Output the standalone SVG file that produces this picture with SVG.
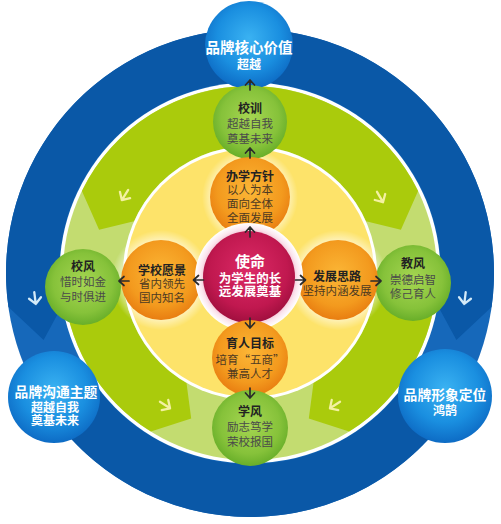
<svg xmlns="http://www.w3.org/2000/svg" width="501" height="524" viewBox="0 0 501 524">
<defs>
  <radialGradient id="gBlue" cx="0.5" cy="0.42" r="0.6">
    <stop offset="0" stop-color="#3ab2f2"/>
    <stop offset="0.6" stop-color="#1a8fe0"/>
    <stop offset="1" stop-color="#0c68c2"/>
  </radialGradient>
  <radialGradient id="gGreen" cx="0.5" cy="0.45" r="0.6">
    <stop offset="0" stop-color="#a6d652"/>
    <stop offset="0.65" stop-color="#86c23a"/>
    <stop offset="1" stop-color="#5fa824"/>
  </radialGradient>
  <radialGradient id="gOrange" cx="0.5" cy="0.42" r="0.62">
    <stop offset="0" stop-color="#fbb636"/>
    <stop offset="0.65" stop-color="#f39a1e"/>
    <stop offset="1" stop-color="#e6770e"/>
  </radialGradient>
  <radialGradient id="gMag" cx="0.5" cy="0.42" r="0.6">
    <stop offset="0" stop-color="#dc2a66"/>
    <stop offset="0.7" stop-color="#c0184f"/>
    <stop offset="1" stop-color="#9c0e3c"/>
  </radialGradient>
  <radialGradient id="gRing" cx="0.5" cy="0.5" r="0.5">
    <stop offset="0.8" stop-color="#f0b8cc"/>
    <stop offset="0.9" stop-color="#fbe6ee"/>
    <stop offset="1" stop-color="#ffffff"/>
  </radialGradient>
  <radialGradient id="gHalo" cx="0.5" cy="0.5" r="0.5">
    <stop offset="0.7" stop-color="#ffffff" stop-opacity="0.75"/>
    <stop offset="1" stop-color="#ffffff" stop-opacity="0"/>
  </radialGradient>
  <path id="arr" d="M0,5 L0,-4.5 M-4.5,0 L0,-5 L4.5,0" fill="none" stroke="#2b2b2b" stroke-width="1.7" stroke-linecap="round" stroke-linejoin="round"/>
  <path id="larr" d="M0,-6 L0,6 M-6,0 L0,6 L6,0" fill="none" stroke-width="2.3" stroke-linecap="round" stroke-linejoin="round"/>
</defs>
<style>
  text { font-family: "Noto Sans CJK SC", "Noto Sans", sans-serif; text-anchor: middle; }
  .t { font-size: 12px; font-weight: 700; fill: #222; }
  .b { font-size: 11.5px; fill: #4a4a4a; }
  .o { fill: #4e3a22; }
  .w { fill: #fff; font-weight: 700; }
  .halo { fill: url(#gHalo); }
</style>
<rect width="501" height="524" fill="#ffffff"/>

<g id="rings">
  <circle cx="250" cy="273" r="244" fill="#1668ba"/>
  <path d="M8.4,307 A244,244 0 1 1 491.6,307 L456.4,340.1 L438.1,306.2 A191,191 0 1 0 61.9,306.2 L43.6,340.1 Z" fill="#0a58a7"/>
  <path d="M43.1,402.3 A244,244 0 0 0 456.9,402.3 L412,374.2 A191,191 0 0 1 88,374.2 Z" fill="#0a58a7"/>
  <circle cx="250" cy="273" r="190.5" fill="#ffffff"/>
  <circle cx="250" cy="273" r="187" fill="#c3dc70"/>
  <path d="M81.9,191 A187,187 0 0 1 418.1,191 L400.9,229.7 L366,221.3 A127,127 0 0 0 134,221.3 L99.1,229.7 Z" fill="#aacb0c"/>
  <path d="M63.1,279.5 A187,187 0 0 0 150.9,431.6 L191.2,418.6 L186.5,383 A127,127 0 0 1 123.1,277.4 Z" fill="#aacb0c"/>
  <path d="M436.9,279.5 A187,187 0 0 1 349.1,431.6 L308.8,418.6 L313.5,383 A127,127 0 0 0 376.9,277.4 Z" fill="#aacb0c"/>
  <circle cx="250" cy="273" r="127" fill="#ffffff"/>
  <circle cx="250" cy="273" r="124" fill="#fde36a"/>
  <g stroke="#d4eaf8">
    <use href="#larr" transform="translate(35,298) rotate(-7)"/>
    <use href="#larr" transform="translate(465,298) rotate(7)"/>
  </g>
  <g stroke="#f4f1a2">
    <use href="#larr" transform="translate(125,195) rotate(32)"/>
    <use href="#larr" transform="translate(380,197) rotate(-30)"/>
    <use href="#larr" transform="translate(165,405) rotate(-57)"/>
    <use href="#larr" transform="translate(335,405) rotate(57)"/>
  </g>
  <circle class="halo" cx="161" cy="280" r="50"/>
  <circle class="halo" cx="338" cy="280" r="50"/>
  <circle class="halo" cx="250" cy="197" r="48"/>
</g>

<g id="brand-core">
  <circle cx="249" cy="45" r="44" fill="url(#gBlue)"/>
  <text class="w" x="249" y="53.3" font-size="14.5">品牌核心价值</text>
  <text class="w" x="249" y="68.6" font-size="12">超越</text>
</g>
<g id="brand-comm">
  <circle cx="54" cy="397" r="46" fill="url(#gBlue)"/>
  <text class="w" x="56" y="397" font-size="13.8">品牌沟通主题</text>
  <text class="w" x="55" y="411.6" font-size="12">超越自我</text>
  <text class="w" x="55" y="424.6" font-size="12">奠基未来</text>
</g>
<g id="brand-image">
  <circle cx="445" cy="396" r="47" fill="url(#gBlue)"/>
  <text class="w" x="445" y="400.4" font-size="13.8">品牌形象定位</text>
  <text class="w" x="445" y="415" font-size="12">鸿鹄</text>
</g>

<g id="xiaoxun">
  <circle cx="250" cy="122" r="37" fill="url(#gGreen)"/>
  <text class="t" x="250" y="112.8">校训</text>
  <text class="b" x="250" y="127.6">超越自我</text>
  <text class="b" x="250" y="142.6">奠基未来</text>
</g>
<g id="xiaofeng">
  <circle cx="83" cy="287" r="38" fill="url(#gGreen)"/>
  <text class="t" x="83" y="271.3">校风</text>
  <text class="b" x="83" y="286.4">惜时如金</text>
  <text class="b" x="83" y="301.1">与时俱进</text>
</g>
<g id="jiaofeng">
  <circle cx="413" cy="283" r="38" fill="url(#gGreen)"/>
  <text class="t" x="413" y="267.9">教风</text>
  <text class="b" x="413" y="283.7">崇德启智</text>
  <text class="b" x="413" y="297.7">修己育人</text>
</g>

<g id="banxue">
  <circle cx="250" cy="197" r="40" fill="url(#gOrange)"/>
  <text class="t" x="250" y="180.5">办学方针</text>
  <text class="b o" x="250" y="194.1">以人为本</text>
  <text class="b o" x="250" y="208.4">面向全体</text>
  <text class="b o" x="250" y="222.4">全面发展</text>
</g>
<g id="yuanjing">
  <circle cx="161" cy="280" r="40" fill="url(#gOrange)"/>
  <text class="t" x="162" y="274.6">学校愿景</text>
  <text class="b o" x="162" y="288.2">省内领先</text>
  <text class="b o" x="162" y="302.4">国内知名</text>
</g>
<g id="silu">
  <circle cx="338" cy="280" r="40" fill="url(#gOrange)"/>
  <text class="t" x="337" y="281.3">发展思路</text>
  <text class="b o" x="337" y="294.7" font-size="10.5">坚持内涵发展</text>
</g>

<g id="center">
  <circle cx="249" cy="277" r="54" fill="url(#gRing)"/>
  <circle cx="249" cy="277" r="46" fill="url(#gMag)"/>
  <text class="w" x="250" y="266.8" font-size="15">使命</text>
  <text class="w" x="250" y="282.6" font-size="12.5">为学生的长</text>
  <text class="w" x="250" y="296.4" font-size="12.5">远发展奠基</text>
</g>

<g id="yuren">
  <circle cx="250" cy="358" r="38" fill="url(#gOrange)"/>
  <text class="t" x="250" y="347.9">育人目标</text>
  <text class="b o" x="250" y="364.4">培育“五商”</text>
  <text class="b o" x="250" y="377.7">兼高人才</text>
</g>
<g id="xuefeng">
  <circle cx="250" cy="428" r="38" fill="url(#gGreen)"/>
  <text class="t" x="250" y="416.3">学风</text>
  <text class="b" x="250" y="431.1">励志笃学</text>
  <text class="b" x="250" y="445.8">荣校报国</text>
</g>

<g id="connectors">
  <use href="#arr" transform="translate(250,85)"/>
  <use href="#arr" transform="translate(250,153)"/>
  <use href="#arr" transform="translate(250,232)"/>
  <use href="#arr" transform="translate(198.5,280) rotate(-90)"/>
  <use href="#arr" transform="translate(124,281) rotate(-90)"/>
  <use href="#arr" transform="translate(300.5,280) rotate(90)"/>
  <use href="#arr" transform="translate(376,281) rotate(90)"/>
  <use href="#arr" transform="translate(250,323) rotate(180)"/>
  <use href="#arr" transform="translate(250,393) rotate(180)"/>
</g>
</svg>
